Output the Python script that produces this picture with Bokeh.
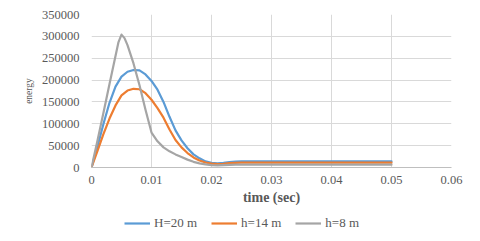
from bokeh.plotting import figure
from bokeh.layouts import column
from bokeh.models import Range1d, FixedTicker, NumeralTickFormatter, Legend, LegendItem
from bokeh.embed import file_html
from bokeh.resources import INLINE

# time (sec)
time_s = [0, 0.001, 0.002, 0.003, 0.004, 0.005, 0.006, 0.007, 0.008, 0.009,
          0.010, 0.011, 0.012, 0.013, 0.014, 0.015, 0.016, 0.017, 0.018, 0.019,
          0.020, 0.021, 0.022, 0.023, 0.024, 0.025, 0.050]
energy_H20 = [0, 48000, 100000, 148000, 185000, 208000, 219000, 223000, 222000, 213000,
              198000, 178000, 150000, 116000, 85000, 62000, 44000, 30000, 21000, 14000,
              10500, 9500, 10500, 12500, 13500, 14000, 14000]
energy_h14 = [0, 38000, 77000, 112000, 142000, 165000, 176000, 180000, 179000, 170000,
              155000, 136000, 114000, 87000, 63000, 46000, 33000, 23000, 16000, 11500,
              9000, 8000, 8500, 9800, 10500, 11000, 11000]
time_h8 = [0, 0.001, 0.002, 0.003, 0.004, 0.0045, 0.005, 0.0055, 0.006, 0.007, 0.008, 0.009,
           0.010, 0.011, 0.012, 0.013, 0.014, 0.015, 0.016, 0.017, 0.018, 0.019,
           0.020, 0.021, 0.022, 0.023, 0.024, 0.025, 0.050]
energy_h8 = [0, 62000, 126000, 191000, 255000, 287000, 304000, 296000, 280000, 238000, 188000, 132000,
             80000, 60000, 46000, 37000, 30000, 24000, 18000, 13000, 9500, 7000,
             5500, 5000, 5500, 6000, 6500, 6500, 6500]

series_names = ["H=20 m", "h=14 m", "h=8 m"]
series_colors = ["#5b9bd5", "#ed7d31", "#a5a5a5"]

x_ticks = [0, 0.01, 0.02, 0.03, 0.04, 0.05, 0.06]
x_tick_labels = ["0", "0.01", "0.02", "0.03", "0.04", "0.05", "0.06"]
y_ticks = [0, 50000, 100000, 150000, 200000, 250000, 300000, 350000]

FONT = "Liberation Serif"
TXT = "#595959"
xs_all = [time_s, time_s, time_h8]
ys_all = [energy_H20, energy_h14, energy_h8]

p = figure(width=480, height=207, output_backend="svg", toolbar_location=None,
           x_range=Range1d(0, 0.06), y_range=Range1d(0, 350000),
           min_border_left=91, min_border_right=29, min_border_top=14, min_border_bottom=39,
           x_axis_label="time (sec)", y_axis_label="energy")
p.outline_line_color = None
p.background_fill_color = "white"
p.border_fill_color = "white"

for ts, ys, c in zip(xs_all, ys_all, series_colors):
    p.line(ts, ys, line_color=c, line_width=2.2, line_join="round", line_cap="round")

# grids
p.xgrid.ticker = FixedTicker(ticks=x_ticks)
p.ygrid.ticker = FixedTicker(ticks=y_ticks)
for g in (p.xgrid, p.ygrid):
    g.grid_line_color = "#d9d9d9"
    g.grid_line_width = 1

# x axis
xa = p.xaxis[0]
xa.ticker = FixedTicker(ticks=x_ticks)
xa.major_label_overrides = {t: l for t, l in zip(x_ticks, x_tick_labels)}
xa.axis_line_color = "#bfbfbf"
xa.major_tick_line_color = None
xa.minor_tick_line_color = None
xa.major_tick_out = 0
xa.major_tick_in = 0
xa.major_label_standoff = 8
xa.major_label_text_font = FONT
xa.major_label_text_font_size = "12.5px"
xa.major_label_text_color = TXT
xa.axis_label_text_font = FONT
xa.axis_label_text_font_size = "14px"
xa.axis_label_text_font_style = "bold"
xa.axis_label_text_color = TXT
xa.axis_label_standoff = 3

# y axis
ya = p.yaxis[0]
ya.ticker = FixedTicker(ticks=y_ticks)
ya.formatter = NumeralTickFormatter(format="0")
ya.axis_line_color = None
ya.major_tick_line_color = None
ya.minor_tick_line_color = None
ya.major_tick_out = 0
ya.major_tick_in = 0
ya.major_label_standoff = 12
ya.major_label_text_font = FONT
ya.major_label_text_font_size = "12.5px"
ya.major_label_text_color = TXT
ya.axis_label_text_font = FONT
ya.axis_label_text_font_size = "9.5px"
ya.axis_label_text_font_style = "normal"
ya.axis_label_text_color = TXT
ya.axis_label_standoff = 5

# legend strip below the chart
pl = figure(width=480, height=34, output_backend="svg", toolbar_location=None,
            x_axis_location=None, y_axis_location=None,
            x_range=Range1d(0, 1), y_range=Range1d(0, 1),
            min_border_left=0, min_border_right=0, min_border_top=0, min_border_bottom=0)
pl.grid.visible = False
pl.outline_line_color = None
pl.background_fill_color = "white"
pl.border_fill_color = "white"
leg_renderers = []
for ts, ys, c in zip(xs_all, ys_all, series_colors):
    r = pl.line(ts, ys, line_color=c, line_width=2.2, visible=False)
    leg_renderers.append(r)

legend = Legend(items=[LegendItem(label=n, renderers=[r]) for n, r in zip(series_names, leg_renderers)],
                orientation="horizontal", location=(33, 10),
                border_line_color=None, background_fill_alpha=0,
                inactive_fill_alpha=0,
                glyph_width=26, glyph_height=12, label_standoff=4, spacing=14,
                padding=0, margin=0,
                label_text_font=FONT, label_text_font_size="13px", label_text_color=TXT)
pl.add_layout(legend, "center")

layout = column(p, pl, spacing=0)
open("out.html", "w").write(file_html(layout, INLINE))
